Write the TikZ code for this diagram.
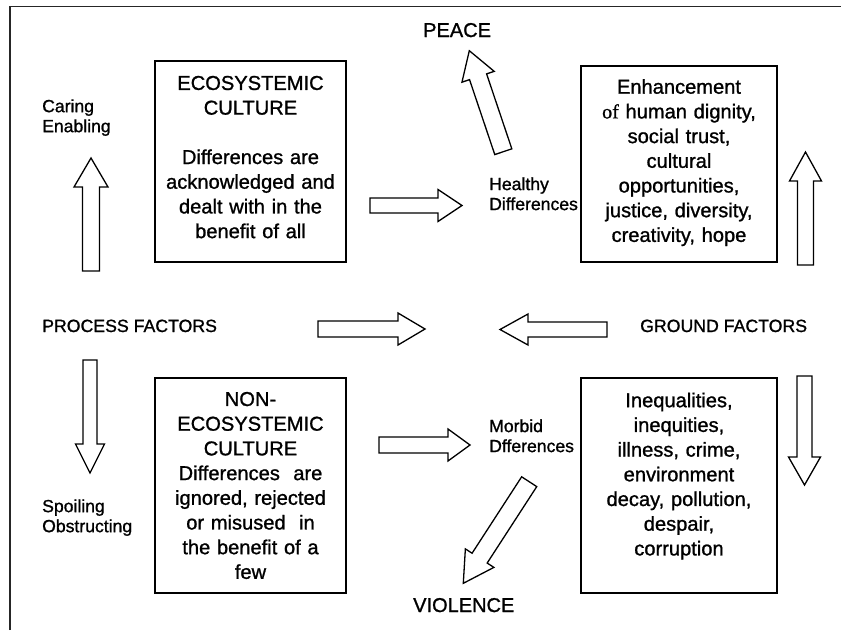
\documentclass[tikz,border=0pt]{standalone}
\usepackage{fontspec}
\setmainfont{Liberation Sans}[RawFeature={embolden=1.1}]
\newfontfamily\serifpart{Liberation Serif}[RawFeature={embolden=1.1}]
\usetikzlibrary{calc}
\newcommand{\boxfont}{\fontsize{20.1}{24.7}\selectfont}
\newcommand{\smallfont}{\fontsize{17.6}{20}\selectfont}
\newcommand{\capsfont}{\fontsize{17.7}{20}\selectfont}
\newcommand{\bigfont}{\fontsize{20}{24}\selectfont}
\newcommand{\blockarrow}[5]{%
  \path ($(#2)!#5!(#1)$) coordinate (hb);
  \draw[barrow] ($(#1)!#3!90:(#2)$) -- ($(hb)!#3!90:(#2)$) -- ($(hb)!#4!90:(#2)$)
    -- (#2) -- ($(hb)!#4!-90:(#2)$) -- ($(hb)!#3!-90:(#2)$) -- ($(#1)!#3!-90:(#2)$) -- cycle;
}
\begin{document}
\begin{tikzpicture}[x=1pt,y=-1pt,
  frameline/.style={line width=1.5pt, draw=black!85},
  barrow/.style={line width=1.3pt, draw=black, fill=white, line join=miter},
  bigbox/.style={draw=black, line width=1.4pt, rectangle, align=center, font=\boxfont,
    inner xsep=3pt, inner ysep=0pt},
  lbl/.style={align=left, font=\smallfont, inner sep=0pt, anchor=west},
  caps/.style={font=\capsfont, inner sep=0pt, anchor=base west},
  big/.style={font=\bigfont, inner sep=0pt, anchor=base west}]
\useasboundingbox (0,0) rectangle (841,630);
\fill[white] (0,0) rectangle (841,630);
\draw[frameline] (10,630) -- (10,6.5) -- (841,6.5);

% boxes
\node[bigbox, minimum width=191pt, minimum height=201pt, text width=185pt] (eco) at (250.5,161.5)
  {ECOSYSTEMIC\\CULTURE\\[24.7pt]Differences are\\acknowledged and\\dealt with in the\\benefit of all\rule[-9pt]{0pt}{9pt}};
\node[bigbox, minimum width=196pt, minimum height=196pt, text width=190pt] (enh) at (679,164)
  {Enhancement\\{\serifpart of} human dignity,\\social trust,\\cultural\\opportunities,\\justice, diversity,\\creativity, hope\rule[-7pt]{0pt}{7pt}};
\node[bigbox, minimum width=191pt, minimum height=215pt, text width=185pt] (noneco) at (250.5,485.5)
  {NON-\\ECOSYSTEMIC\\CULTURE\\Differences\ \ are\\ignored, rejected\\or misused\ \ in\\the benefit of a\\few};
\node[bigbox, minimum width=196pt, minimum height=215pt, text width=190pt] (ground) at (679,485.5)
  {Inequalities,\\inequities,\\illness, crime,\\environment\\decay, pollution,\\despair,\\corruption\rule[-23pt]{0pt}{23pt}};

% labels
\node[lbl] (caring) at (42,117.6) {Caring\\Enabling};
\node[lbl] (healthy) at (489,193.8) {Healthy\\Differences};
\node[lbl] (morbid) at (489,435.8) {Morbid\\Dfferences};
\node[lbl] (spoil) at (42,517.6) {Spoiling\\Obstructing};
\node[caps] (process) at (42,332) {PROCESS FACTORS};
\node[caps] (groundf) at (640,332) {GROUND FACTORS};
\node[big] (peace) at (423,37) {PEACE};
\node[big] (violence) at (413,612) {VIOLENCE};

% arrow end points
\coordinate (a1t) at (91,271);   \coordinate (a1h) at (91,158);
\coordinate (a2t) at (805.5,265); \coordinate (a2h) at (805.5,152);
\coordinate (a3t) at (503.3,151.7); \coordinate (a3h) at (469.3,50.7);
\coordinate (a4t) at (370,205.5); \coordinate (a4h) at (462,205.5);
\coordinate (a5t) at (318,329);   \coordinate (a5h) at (425,329);
\coordinate (a6t) at (607,329.5); \coordinate (a6h) at (500,329.5);
\coordinate (a7t) at (90,360);    \coordinate (a7h) at (90,473);
\coordinate (a8t) at (379,445);   \coordinate (a8h) at (470,445);
\coordinate (a9t) at (529.2,481.7); \coordinate (a9h) at (463.3,583.3);
\coordinate (a10t) at (804.5,376); \coordinate (a10h) at (804.5,485);

\blockarrow{a1t}{a1h}{8.5pt}{17pt}{29pt}
\blockarrow{a2t}{a2h}{8pt}{16pt}{29pt}
\blockarrow{a3t}{a3h}{9pt}{17pt}{27.5pt}
\blockarrow{a4t}{a4h}{7.5pt}{16pt}{24pt}
\blockarrow{a5t}{a5h}{8pt}{16pt}{27pt}
\blockarrow{a6t}{a6h}{7.5pt}{15.5pt}{28pt}
\blockarrow{a7t}{a7h}{7pt}{14.5pt}{29pt}
\blockarrow{a8t}{a8h}{8pt}{16pt}{22pt}
\blockarrow{a9t}{a9h}{9pt}{17pt}{30pt}
\blockarrow{a10t}{a10h}{7.5pt}{16pt}{28pt}
\end{tikzpicture}
\end{document}
